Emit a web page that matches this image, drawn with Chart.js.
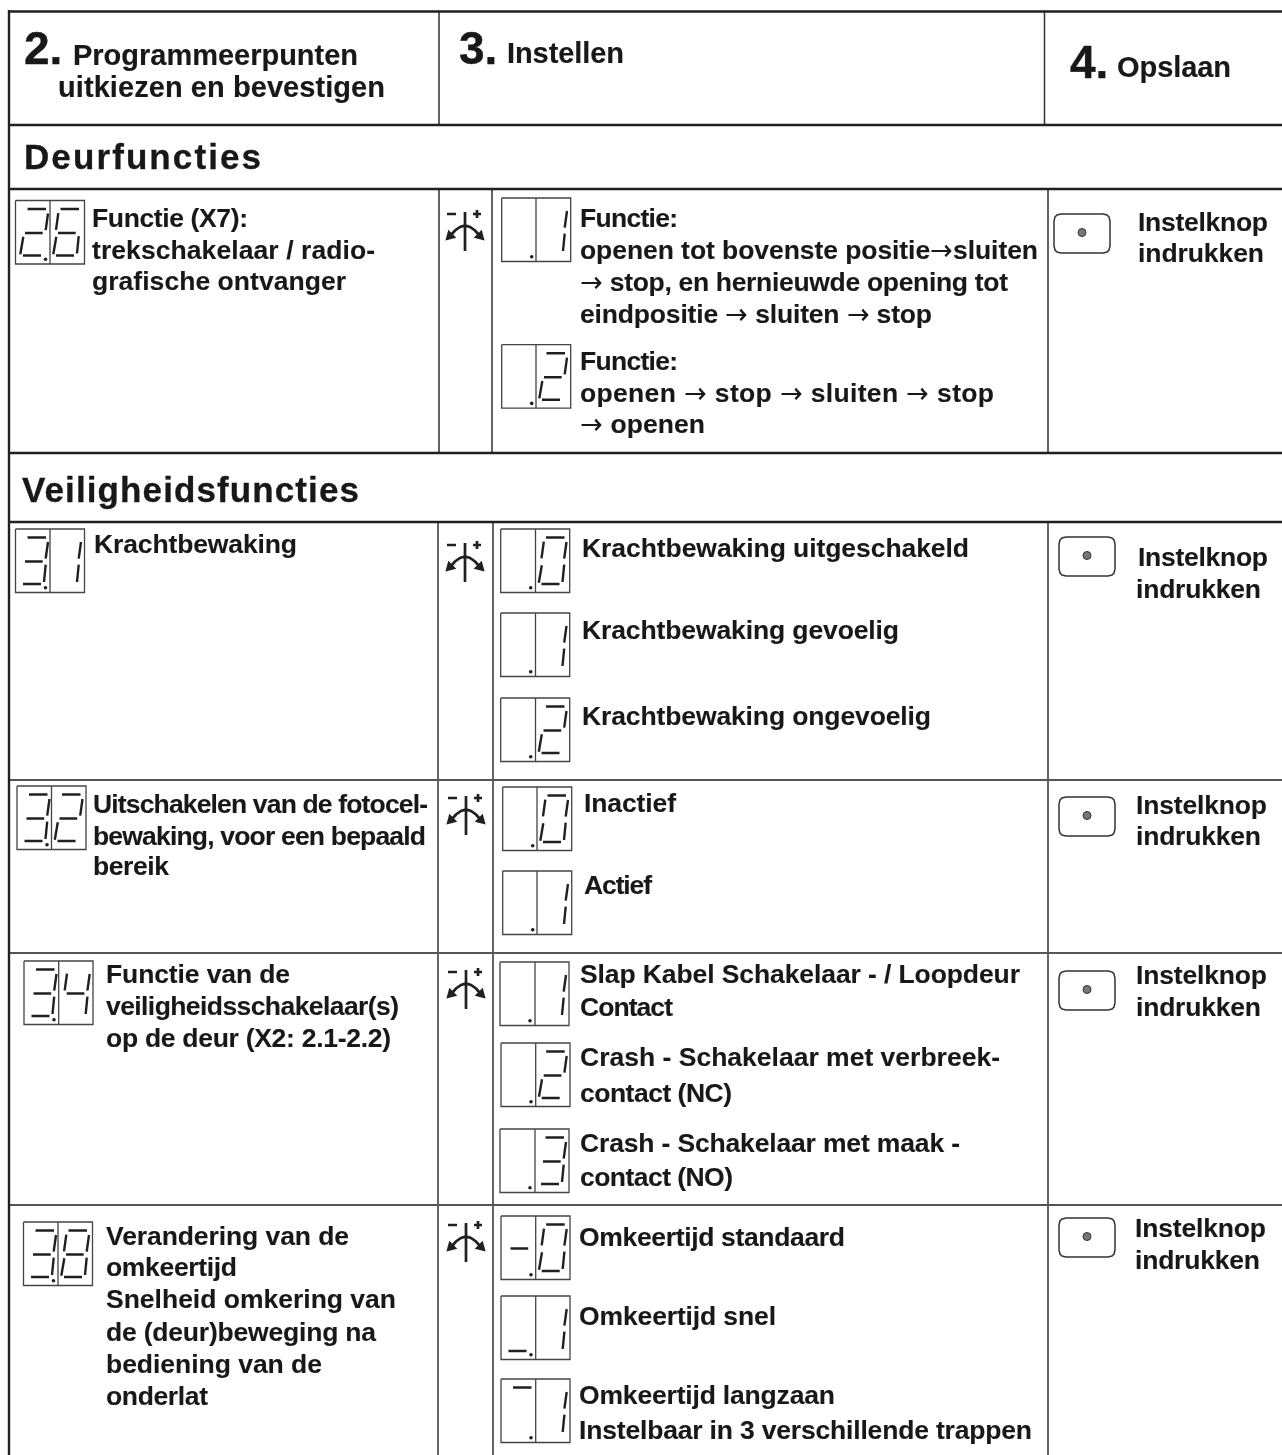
<!DOCTYPE html>
<html><head><meta charset="utf-8">
<script src="https://cdn.jsdelivr.net/npm/chart.js@4/dist/chart.umd.min.js"></script>
<style>html,body{margin:0;padding:0;background:#fff}canvas{display:block}
@font-face{font-family:"ArrowGlyph";src:local("DejaVu Sans");font-weight:bold;unicode-range:U+2192}</style>
</head><body><canvas id="c" width="1282" height="1455"></canvas>
<script>
// ---- table content ----
const bigNumbers = [["2.",24,64],["3.",459,64],["4.",1070,78]];
const headerTexts = [
 ["Programmeerpunten",73,65,358],["uitkiezen en bevestigen",58,97,385],
 ["Instellen",507,63,624],["Opslaan",1117,77,1231]];
const sectionTitles = [["Deurfuncties",24,169,261],["Veiligheidsfuncties",22,502,359]];
const doorTexts = [
 ["Functie (X7):",92,226.5,248],["trekschakelaar / radio-",92,259,375],["grafische ontvanger",92,290,346],
 ["Functie:",580,227,678],["openen tot bovenste positie\u2192sluiten",580,259,1038],
 ["\u2192 stop, en hernieuwde opening tot",580,291,1008],["eindpositie \u2192 sluiten \u2192 stop",580,323,932],
 ["Functie:",580,370,678],["openen \u2192 stop \u2192 sluiten \u2192 stop",580,402,994],["\u2192 openen",580,433,705]];
const forceTexts = [
 ["Krachtbewaking",94,553,297],["Krachtbewaking uitgeschakeld",582,557,969],
 ["Krachtbewaking gevoelig",582,639,899],["Krachtbewaking ongevoelig",582,725,931]];
const photoTexts = [
 ["Uitschakelen van de fotocel-",93,813,428],["bewaking, voor een bepaald",93,845,426],["bereik",93,875,169],
 ["Inactief",584,812,676],["Actief",584,894,652]];
const switchTexts = [
 ["Functie van de",106,983,290],["veiligheidsschakelaar(s)",106,1015,399],["op de deur (X2: 2.1-2.2)",106,1047,391],
 ["Slap Kabel Schakelaar - / Loopdeur",580,983,1020],["Contact",580,1016,673],
 ["Crash - Schakelaar met verbreek-",580,1066,1000],["contact (NC)",580,1102,732],
 ["Crash - Schakelaar met maak -",580,1152,960],["contact (NO)",580,1186,733]];
const reverseTexts = [
 ["Verandering van de",106,1245,349],["omkeertijd",106,1276,237],["Snelheid omkering van",106,1308,396],
 ["de (deur)beweging na",106,1341,376],["bediening van de",106,1373,322],["onderlat",106,1405,208],
 ["Omkeertijd standaard",579,1246,845],["Omkeertijd snel",579,1325,776],
 ["Omkeertijd langzaan",579,1404,835],["Instelbaar in 3 verschillende trappen",579,1439,1032]];
const storeTexts = [
 ["Instelknop",1138,231,1268],["indrukken",1138,262,1264],["Instelknop",1138,566,1268],["indrukken",1136,598,1261],
 ["Instelknop",1136,814,1267],["indrukken",1136,845,1261],["Instelknop",1136,984,1267],["indrukken",1136,1016,1261],
 ["Instelknop",1135,1237,1266],["indrukken",1135,1269,1260]];
// display readouts: left x, top y, split x, left glyph, right glyph
const displays = [
 [15.5,200.5,50,"2","6"],[501.7,198,536,"."," 1"],[501.7,344.7,536,".","2"],
 [15.5,529,50,"3","1"],[500.7,529,535.5,".","0"],[500.7,613,535.5,".","1"],[500.7,698,535.5,".","2"],
 [17,786,51.5,"3","2"],[502.7,787,537,".","0"],[502.7,871,537,".","1"],
 [24,961,58.7,"3","4"],[500,962,535,".","1"],[501,1043,535.7,".","2"],[500,1129,535,".","3"],
 [23.5,1222,58,"3","8"],[501,1216,535.7,"-","0"],[501,1296,535.7,"_","1"],[501,1379,535.7,"^","1"]];
const knobSymbols = [[465,212],[465,543],[466,796],[466,970],[466,1223]];
const buttons = [[1054,214],[1059,537],[1059,797],[1059,971],[1059,1218]];
const thickRules = [[8,11.5,1282,11.5],[8,125,1282,125],[8,189,1282,189],[8,453,1282,453],[8,522,1282,522],[9,10,9,1455]];
const midRules = [[8,780,1282,780],[8,953,1282,953],[8,1205,1282,1205]];
const thinRules = [[439,11,439,125],[1044.5,11,1044.5,125],[439,189,439,453],[492,189,492,453],[1048,189,1048,453],
 [438,522,438,1455],[493,522,493,1455],[1048,522,1048,1455]];

// ---- seven-segment geometry ----
const GLYPH = {"0":"abcdef","1":"bc","2":"abged","3":"abgcd","4":"fgbc","6":"afgedc","8":"abcdefg","-":"g","_":"d","^":"a"," ":"",".":""};
const SEG = {a:[10.5,8.5,29,8.5],b:[31,13,28.7,29.7],c:[28.7,35.7,27,53],d:[6,55,24,55],e:[6.3,36.3,3.3,53.7],f:[8.3,12.7,6,29.3],g:[8,32.5,25.7,32.5]};
const W = 69, H = 63.5;
const seg = (a,b,c,d,o)=>{o.push({x:a,y:b},{x:c,y:d},{x:NaN,y:NaN});};
const poly = (l,o)=>{l.forEach(p=>o.push({x:p[0],y:p[1]}));o.push({x:NaN,y:NaN});};
const rulePts = r=>{const o=[];r.forEach(v=>seg(v[0],v[1],v[2],v[3],o));return o;};
const boxPts=[],segPts=[],dotPts=[];
displays.forEach(([x,y,m,l,r])=>{
  poly([[x,y],[x+W,y],[x+W,y+H],[x,y+H],[x,y]],boxPts);
  seg(m,y,m,y+H,boxPts);
  dotPts.push({x:x+30,y:y+58.7});
  [...l.trim()].forEach(ch=>[...GLYPH[ch]].forEach(s=>{const q=SEG[s];seg(x+q[0]+1.5,y+q[1],x+q[2]+1.5,y+q[3],segPts);}));
  [...r.trim()].forEach(ch=>[...GLYPH[ch]].forEach(s=>{const q=SEG[s];seg(m+q[0],y+q[1],m+q[2],y+q[3],segPts);}));
});
const knobPts=[],headL=[],headR=[];
knobSymbols.forEach(([x,y])=>{
  seg(x,y,x,y+39,knobPts);seg(x-18,y+2,x-9,y+2,knobPts);seg(x+8,y+2,x+16,y+2,knobPts);seg(x+12,y-2,x+12,y+6,knobPts);
  poly([[x-14,y+23],[x-10,y+18.5],[x-5,y+15],[x,y+13.5],[x+5,y+15],[x+10,y+18.5],[x+14,y+23]],knobPts);
  headL.push({x:x-15,y:y+24});headR.push({x:x+15,y:y+24});
});
const btnPts=[],btnDots=[];
buttons.forEach(([x,y])=>{
  const w=56,h=39;
  poly([[x+7,y],[x+w-7,y],[x+w-3,y+1],[x+w-1,y+3],[x+w,y+7],[x+w,y+h-7],[x+w-1,y+h-3],[x+w-3,y+h-1],[x+w-7,y+h],[x+7,y+h],[x+3,y+h-1],[x+1,y+h-3],[x,y+h-7],[x,y+7],[x+1,y+3],[x+3,y+1],[x+7,y]],btnPts);
  btnDots.push({x:x+28,y:y+18.5});
});
const INK="#231f20";
const line=(data,w,c)=>({data,showLine:true,spanGaps:false,borderColor:c,borderWidth:w,pointRadius:0,clip:false,tension:0});
const marks=(data,o)=>Object.assign({data,showLine:false,clip:false,pointBorderWidth:0,pointBackgroundColor:INK},o);

const textPlugin={id:"tableText",afterDatasetsDraw(ch){
  const c=ch.ctx,X=ch.scales.x,Y=ch.scales.y;
  const put=(rows,size,sw)=>rows.forEach(([t,x,y,x1])=>{
    c.save();c.font=`bold ${size}px "ArrowGlyph","Liberation Sans", Arial, sans-serif`;c.fillStyle="#1a1718";c.strokeStyle="#1a1718";c.lineWidth=sw;c.lineJoin="round";c.textBaseline="alphabetic";c.textAlign="left";
    c.letterSpacing="0px";
    if(x1){const wd=c.measureText(t).width;const ls=(x1-x-wd)/Math.max(1,t.length-1);c.letterSpacing=ls.toFixed(3)+"px";}
    const px=X.getPixelForValue(x),py=Y.getPixelForValue(y);
    c.fillText(t,px,py);c.strokeText(t,px,py);c.restore();});
  put(bigNumbers,46,0.4);put(headerTexts,29,0.15);put(sectionTitles,35,0.3);
  [doorTexts,forceTexts,photoTexts,switchTexts,reverseTexts,storeTexts].forEach(r=>put(r,26.5,0.1));
}};
const chart=new Chart(document.getElementById("c"),{type:"scatter",plugins:[textPlugin],
 data:{datasets:[
  line(rulePts(thickRules),2.4,INK),line(rulePts(midRules),2,"#555"),line(rulePts(thinRules),1.5,"#333"),
  line(boxPts,1.3,"#444"),line(segPts,2.4,INK),line(knobPts,2.7,INK),line(btnPts,1.5,"#333"),
  marks(dotPts,{pointRadius:1.8}),
  marks(headL,{pointStyle:"triangle",pointRadius:6.5,pointRotation:225}),
  marks(headR,{pointStyle:"triangle",pointRadius:6.5,pointRotation:135}),
  marks(btnDots,{pointRadius:4,pointBackgroundColor:"#777",pointBorderColor:"#333",pointBorderWidth:1})
 ]},
 options:{responsive:false,animation:false,events:[],layout:{padding:0,autoPadding:false},
  plugins:{legend:{display:false},tooltip:{enabled:false},title:{display:false}},
  scales:{x:{type:"linear",min:0,max:1282,display:false},y:{type:"linear",min:0,max:1455,reverse:true,display:false}}}
});
document.fonts.load('bold 26px "ArrowGlyph"','\u2192').then(()=>chart.draw());
</script></body></html>
